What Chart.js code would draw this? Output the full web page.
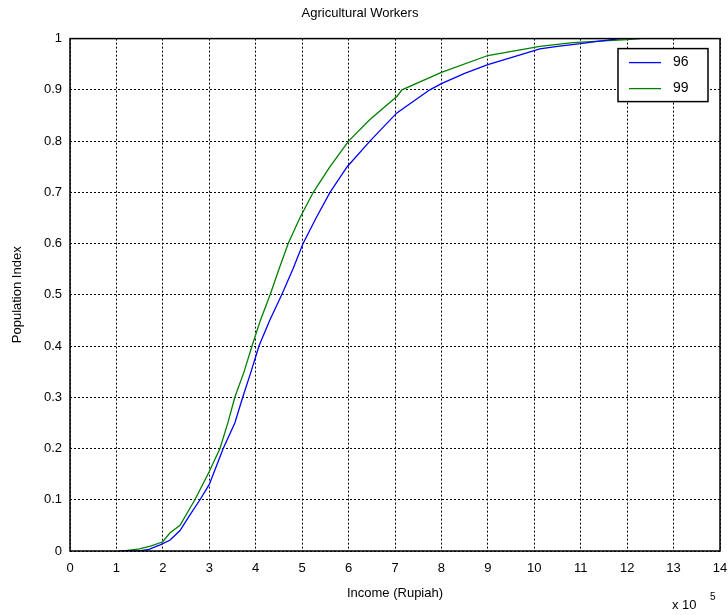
<!DOCTYPE html>
<html>
<head>
<meta charset="utf-8">
<title>Agricultural Workers</title>
<script src="https://cdn.jsdelivr.net/npm/chart.js@4/dist/chart.umd.min.js"></script>
<style>
    html, body { margin: 0; padding: 0; background: #fff; }
    #wrap { width: 728px; height: 615px; }
</style>
</head>
<body>
<div id="wrap"><canvas id="cdfChart" width="728" height="615"></canvas></div>
<script>
// Income values are in units of 10^5 Rupiah
const seriesLabels = ['96', '99'];
const seriesColors = ['#0000ff', '#008000'];

const income96 = [1.06, 1.5, 1.7, 1.94, 2.15, 2.37, 2.58, 2.8, 3.0, 3.15, 3.3, 3.55, 3.72, 3.9, 4.07, 4.3, 4.56, 4.8, 5.02, 5.3, 5.6, 5.97, 6.46, 7.04, 7.75, 8.0, 8.5, 9.0, 9.5, 10.12, 10.5, 11.0, 11.4, 11.85];
const index96  = [0, 0, 0.003, 0.012, 0.021, 0.04, 0.07, 0.1, 0.13, 0.165, 0.2, 0.25, 0.3, 0.35, 0.4, 0.45, 0.5, 0.55, 0.6, 0.65, 0.7, 0.75, 0.8, 0.855, 0.9, 0.912, 0.932, 0.949, 0.963, 0.98, 0.985, 0.99, 0.995, 1.0];

const income99 = [1.15, 1.5, 1.75, 2.0, 2.15, 2.37, 2.69, 3.0, 3.23, 3.4, 3.55, 3.75, 3.92, 4.1, 4.31, 4.5, 4.7, 4.95, 5.24, 5.6, 6.0, 6.46, 7.04, 7.15, 8.0, 9.0, 10.12, 10.83, 12.0, 12.28];
const index99  = [0, 0.004, 0.01, 0.018, 0.035, 0.05, 0.1, 0.155, 0.2, 0.25, 0.3, 0.35, 0.4, 0.45, 0.5, 0.55, 0.6, 0.65, 0.7, 0.75, 0.8, 0.842, 0.887, 0.9, 0.934, 0.967, 0.985, 0.992, 0.998, 1.0];

const xTickLabels = ['0', '1', '2', '3', '4', '5', '6', '7', '8', '9', '10', '11', '12', '13', '14'];
const yTickLabels = ['0', '0.1', '0.2', '0.3', '0.4', '0.5', '0.6', '0.7', '0.8', '0.9', '1'];

const FONT = 'Liberation Sans, Arial, Helvetica, sans-serif';

function toPoints(xs, ys) {
    return xs.map((x, i) => ({ x: x, y: ys[i] }));
}

// box around the axes, legend box and the "x 10^5" exponent
const matlabDecor = {
    id: 'matlabDecor',
    afterDraw(chart) {
        const ctx = chart.ctx;
        const a = chart.chartArea;
        ctx.save();
        ctx.strokeStyle = '#000';
        ctx.lineWidth = 1.5;
        ctx.setLineDash([]);
        ctx.strokeRect(a.left, a.top, a.right - a.left, a.bottom - a.top);

        // legend
        const lx = a.right - 102, ly = a.top + 10, lw = 90, lh = 53;
        ctx.fillStyle = '#fff';
        ctx.fillRect(lx, ly, lw, lh);
        ctx.strokeRect(lx, ly, lw, lh);
        ctx.font = '14px ' + FONT;
        ctx.textBaseline = 'middle';
        seriesLabels.forEach((lab, i) => {
            const y = ly + 14 + i * 26;
            ctx.strokeStyle = seriesColors[i];
            ctx.lineWidth = 1.3;
            ctx.beginPath();
            ctx.moveTo(lx + 11, y);
            ctx.lineTo(lx + 43, y);
            ctx.stroke();
            ctx.fillStyle = '#000';
            ctx.fillText(lab, lx + 55, y);
        });

        // exponent label
        ctx.fillStyle = '#000';
        ctx.font = '13px ' + FONT;
        ctx.textBaseline = 'alphabetic';
        ctx.fillText('x 10', 672, 609);
        ctx.font = '10px ' + FONT;
        ctx.fillText('5', 710, 600);
        ctx.restore();
    }
};

const ctx = document.getElementById('cdfChart').getContext('2d');
const cdfChart = new Chart(ctx, {
    type: 'line',
    data: {
        datasets: [
            {
                label: seriesLabels[0],
                data: toPoints(income96, index96),
                borderColor: seriesColors[0],
                borderWidth: 1.3,
                pointRadius: 0,
                tension: 0,
                fill: false
            },
            {
                label: seriesLabels[1],
                data: toPoints(income99, index99),
                borderColor: seriesColors[1],
                borderWidth: 1.3,
                pointRadius: 0,
                tension: 0,
                fill: false
            }
        ]
    },
    options: {
        responsive: false,
        animation: false,
        layout: { padding: { left: 0, right: 8, top: 0, bottom: 0 } },
        plugins: {
            legend: { display: false },
            tooltip: { enabled: false },
            title: {
                display: true,
                text: 'Agricultural Workers',
                color: '#000',
                font: { family: FONT, size: 13, weight: 'normal' },
                padding: { top: 6, bottom: 17 }
            }
        },
        scales: {
            x: {
                type: 'linear',
                min: 0,
                max: 14,
                afterFit: (scale) => {
                    scale.height = 64;
                    scale.paddingLeft = 0;
                    scale.paddingRight = 0;
                },
                ticks: {
                    stepSize: 1,
                    color: '#000',
                    padding: 10,
                    maxRotation: 0,
                    font: { family: FONT, size: 13 },
                    callback: (v) => xTickLabels[Math.round(v)]
                },
                grid: { color: '#000', lineWidth: 1, drawTicks: false },
                border: { display: false, dash: [2, 2] },
                title: {
                    display: true,
                    text: 'Income (Rupiah)',
                    color: '#000',
                    font: { family: FONT, size: 13 },
                    padding: { top: 0, bottom: 14 }
                }
            },
            y: {
                type: 'linear',
                min: 0,
                max: 1,
                afterFit: (scale) => { scale.width = 70; },
                ticks: {
                    stepSize: 0.1,
                    color: '#000',
                    padding: 8,
                    font: { family: FONT, size: 13 },
                    callback: (v) => yTickLabels[Math.round(v * 10)]
                },
                grid: { color: '#000', lineWidth: 1, drawTicks: false },
                border: { display: false, dash: [2, 2] },
                title: {
                    display: true,
                    text: 'Population Index',
                    color: '#000',
                    font: { family: FONT, size: 13 },
                    padding: { top: 10, bottom: 0 }
                }
            }
        }
    },
    plugins: [matlabDecor]
});
</script>
</body>
</html>
